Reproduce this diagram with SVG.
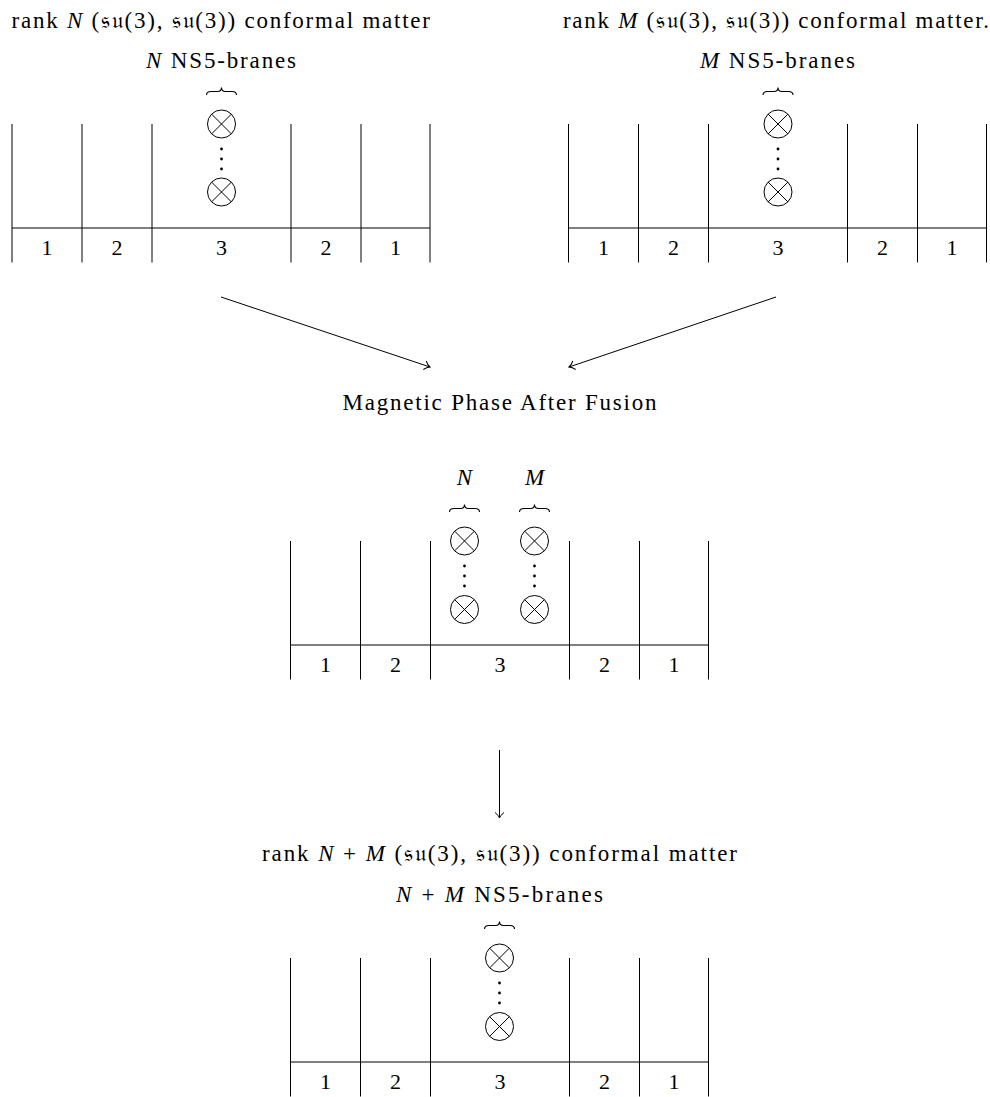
<svg xmlns="http://www.w3.org/2000/svg" xmlns:xlink="http://www.w3.org/1999/xlink" width="990" height="1097" viewBox="0 0 990 1097">
<style>
text{font-family:"Liberation Serif","DejaVu Serif","DejaVu Sans",serif;font-size:23px;fill:#000}
.c{text-anchor:middle}
.i{font-style:italic}
.d{font-size:22px}
.ln{stroke:#000;stroke-width:1;fill:none}
.br{stroke:#000;stroke-width:1.1;fill:none}
.ar{stroke:#000;stroke-width:1;fill:none}
</style>
<defs>
<g id="ot"><circle r="14" fill="none" stroke="#000" stroke-width="1"/><path d="M-9.9,-9.9L9.9,9.9M-9.9,9.9L9.9,-9.9" stroke="#000" stroke-width="1"/></g>
<g id="vd" fill="#000"><circle cy="-10" r="1.4"/><circle r="1.4"/><circle cy="10" r="1.4"/></g>
<path id="brace" class="br" d="M-15,4Q-15,0.5 -10.5,0.5L-4,0.5Q0,0.5 0,-3.5Q0,0.5 4,0.5L10.5,0.5Q15,0.5 15,4"/>
<g id="grid">
<path class="ln" d="M0,0V138.5M70,0V138.5M140,0V138.5M279,0V138.5M349,0V138.5M418,0V138.5M0,104H418"/>
<text class="c d" x="35" y="131">1</text>
<text class="c d" x="105" y="131">2</text>
<text class="c d" x="209.5" y="131">3</text>
<text class="c d" x="314" y="131">2</text>
<text class="c d" x="383.5" y="131">1</text>
</g>
<marker id="to" viewBox="-7 -6 8 12" markerWidth="8" markerHeight="12" refX="0" refY="0" orient="auto" markerUnits="userSpaceOnUse">
<path d="M-5.5,-4.5C-3.5,-1.8 -1.2,-0.5 0,0C-1.2,0.5 -3.5,1.8 -5.5,4.5" stroke="#000" stroke-width="1" fill="none"/>
</marker>
</defs>

<g id="title-left">
<text x="11.5" y="28" textLength="418.5" lengthAdjust="spacing">rank <tspan class="i">N</tspan> (𝔰𝔲(3), 𝔰𝔲(3)) conformal matter</text>
</g>
<g id="title-right">
<text x="563" y="28" textLength="426" lengthAdjust="spacing">rank <tspan class="i">M</tspan> (𝔰𝔲(3), 𝔰𝔲(3)) conformal matter.</text>
</g>

<g id="diagram-left">
<text x="146" y="68" textLength="150" lengthAdjust="spacing"><tspan class="i">N</tspan> NS5-branes</text>
<use xlink:href="#brace" x="221.5" y="91"/>
<use xlink:href="#grid" x="12" y="124"/>
<use xlink:href="#ot" x="221.5" y="124"/>
<use xlink:href="#vd" x="221.5" y="159"/>
<use xlink:href="#ot" x="221.5" y="192"/>
</g>

<g id="diagram-right">
<text x="700" y="68" textLength="155" lengthAdjust="spacing"><tspan class="i">M</tspan> NS5-branes</text>
<use xlink:href="#brace" x="778" y="91"/>
<use xlink:href="#grid" x="568.5" y="124"/>
<use xlink:href="#ot" x="778" y="124"/>
<use xlink:href="#vd" x="778" y="159"/>
<use xlink:href="#ot" x="778" y="192"/>
</g>

<g id="label-magnetic">
<text class="c" x="499.5" y="410" textLength="314" lengthAdjust="spacing">Magnetic Phase After Fusion</text>
</g>

<g id="diagram-middle">
<text class="c i" x="464.5" y="485">N</text>
<text class="c i" x="534.5" y="485">M</text>
<use xlink:href="#brace" x="464.5" y="508"/>
<use xlink:href="#brace" x="534.5" y="508"/>
<use xlink:href="#grid" x="290.5" y="541"/>
<use xlink:href="#ot" x="464.5" y="541"/>
<use xlink:href="#vd" x="464.5" y="576"/>
<use xlink:href="#ot" x="464.5" y="609.5"/>
<use xlink:href="#ot" x="534.5" y="541"/>
<use xlink:href="#vd" x="534.5" y="576"/>
<use xlink:href="#ot" x="534.5" y="609.5"/>
</g>

<g id="title-bottom">
<text x="262" y="861" textLength="475" lengthAdjust="spacing">rank <tspan class="i">N</tspan> + <tspan class="i">M</tspan> (𝔰𝔲(3), 𝔰𝔲(3)) conformal matter</text>
</g>

<g id="diagram-bottom">
<text x="396" y="902" textLength="207" lengthAdjust="spacing"><tspan class="i">N</tspan> + <tspan class="i">M</tspan> NS5-branes</text>
<use xlink:href="#brace" x="499.5" y="925"/>
<use xlink:href="#grid" x="290.5" y="958"/>
<use xlink:href="#ot" x="499.5" y="958"/>
<use xlink:href="#vd" x="499.5" y="993"/>
<use xlink:href="#ot" x="499.5" y="1026.5"/>
</g>

<g id="connectors">
<line class="ar" x1="221" y1="297" x2="430" y2="367" marker-end="url(#to)"/>
<line class="ar" x1="776" y1="297" x2="569" y2="367" marker-end="url(#to)"/>
<line class="ar" x1="499.5" y1="750" x2="499.5" y2="818" marker-end="url(#to)"/>
</g>
</svg>
